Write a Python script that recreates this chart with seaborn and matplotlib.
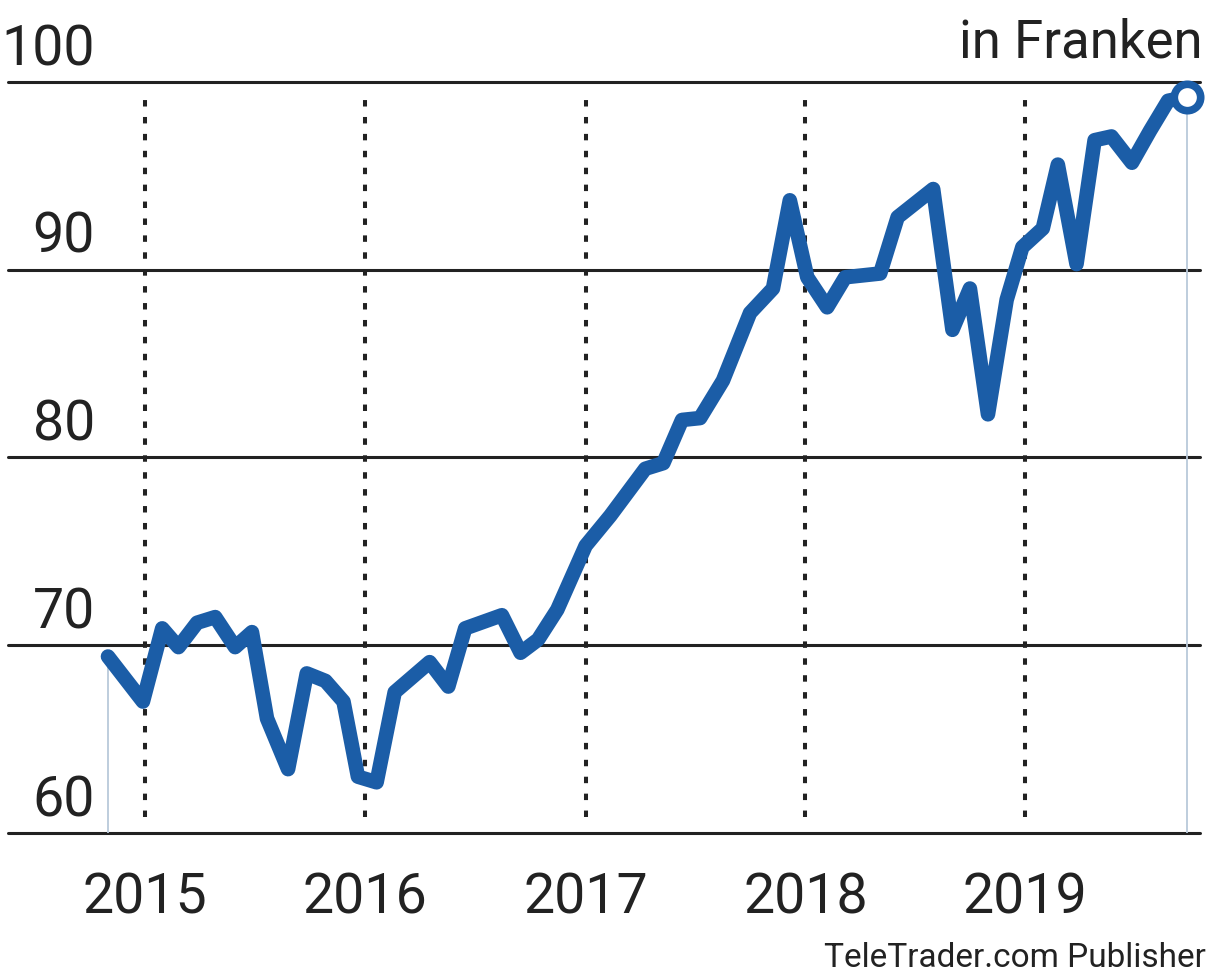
import pandas as pd
import matplotlib.pyplot as plt
import seaborn as sns

# monthly-ish closing prices (in Franken)
dates = ['2014-10-31', '2014-12-28', '2015-01-29', '2015-02-25', '2015-03-28', '2015-04-27',
         '2015-05-30', '2015-06-27', '2015-07-22', '2015-08-26', '2015-09-26', '2015-10-27',
         '2015-11-26', '2015-12-20', '2016-01-20', '2016-02-19', '2016-04-17', '2016-05-18',
         '2016-06-15', '2016-08-15', '2016-09-15', '2016-10-14', '2016-11-15', '2017-01-01',
         '2017-02-11', '2017-04-10', '2017-05-10', '2017-06-10', '2017-07-10', '2017-08-17',
         '2017-10-01', '2017-11-08', '2017-12-06', '2018-01-04', '2018-02-06', '2018-03-08',
         '2018-05-05', '2018-06-03', '2018-08-01', '2018-09-02', '2018-10-01', '2018-10-31',
         '2018-12-01', '2018-12-27', '2019-01-30', '2019-02-24', '2019-03-27', '2019-04-26',
         '2019-05-24', '2019-06-27', '2019-07-27', '2019-08-26', '2019-09-26']
prices = [69.4, 67.0, 70.9, 69.9, 71.2, 71.5,
          69.9, 70.7, 66.1, 63.4, 68.5, 68.1,
          67.0, 63.0, 62.7, 67.5, 69.1, 67.8,
          70.9, 71.6, 69.6, 70.3, 71.9, 75.3,
          76.9, 79.4, 79.7, 82.0, 82.1, 84.1,
          87.7, 89.0, 93.7, 89.6, 88.0, 89.6,
          89.8, 92.8, 94.3, 86.8, 89.0, 82.3,
          88.4, 91.2, 92.2, 95.6, 90.3, 96.9,
          97.1, 95.7, 97.4, 99.0, 99.2]
y_ticks = [60, 70, 80, 90, 100]
year_ticks = ['2015', '2016', '2017', '2018', '2019']

df = pd.DataFrame({'date': pd.to_datetime(dates), 'price': prices})
year_dates = pd.to_datetime([y + '-01-01' for y in year_ticks])

sns.set_style('white')
plt.rcParams['font.family'] = ['Roboto', 'DejaVu Sans']

blue = '#1b5da7'
ink = '#222222'

fig = plt.figure(figsize=(12.13, 9.74), dpi=100)
ax = fig.add_axes([8 / 1213, 141 / 974, 1192 / 1213, 751 / 974])

for v in y_ticks:
    ax.axhline(v, color=ink, lw=2.2, zorder=1, clip_on=False)
    ax.text(0.073, v + 0.9, str(v), transform=ax.get_yaxis_transform(),
            ha='right', va='baseline', fontsize=40, color=ink)

ax.vlines(year_dates, 60.85, 99.45, colors=ink, lw=2.9,
          linestyles=(0, (1.6, 2.6)), zorder=1)

# thin guide lines under first and last point
ax.vlines([df['date'].iloc[0], df['date'].iloc[-1]], 60, [prices[0], prices[-1]],
          colors='#b9c9da', lw=1.3, zorder=1)

sns.lineplot(data=df, x='date', y='price', color=blue, lw=10.5, ax=ax,
             solid_joinstyle='round', solid_capstyle='round', zorder=3)
ax.plot(df['date'].iloc[-1], prices[-1], 'o', ms=19, mfc='white', mec=blue,
        mew=5.5, clip_on=False, zorder=4)

ax.set_ylim(60, 100)
ax.set_xlim(pd.Timestamp('2014-05-18'), pd.Timestamp('2019-10-18'))
ax.set_xticks(year_dates)
ax.set_xticklabels(year_ticks, fontsize=40, color=ink)
ax.tick_params(axis='x', length=0, pad=28)
ax.set_yticks([])
ax.set_xlabel('')
ax.set_ylabel('')
sns.despine(ax=ax, left=True, bottom=True)

fig.text(1203 / 1213, 1 - 58 / 974, 'in Franken', ha='right', va='baseline',
         fontsize=38, color=ink)
fig.text(1206 / 1213, 1 - 967 / 974, 'TeleTrader.com Publisher', ha='right',
         va='baseline', fontsize=24, color=ink)

fig.savefig('out.png', dpi=100, facecolor='white')
